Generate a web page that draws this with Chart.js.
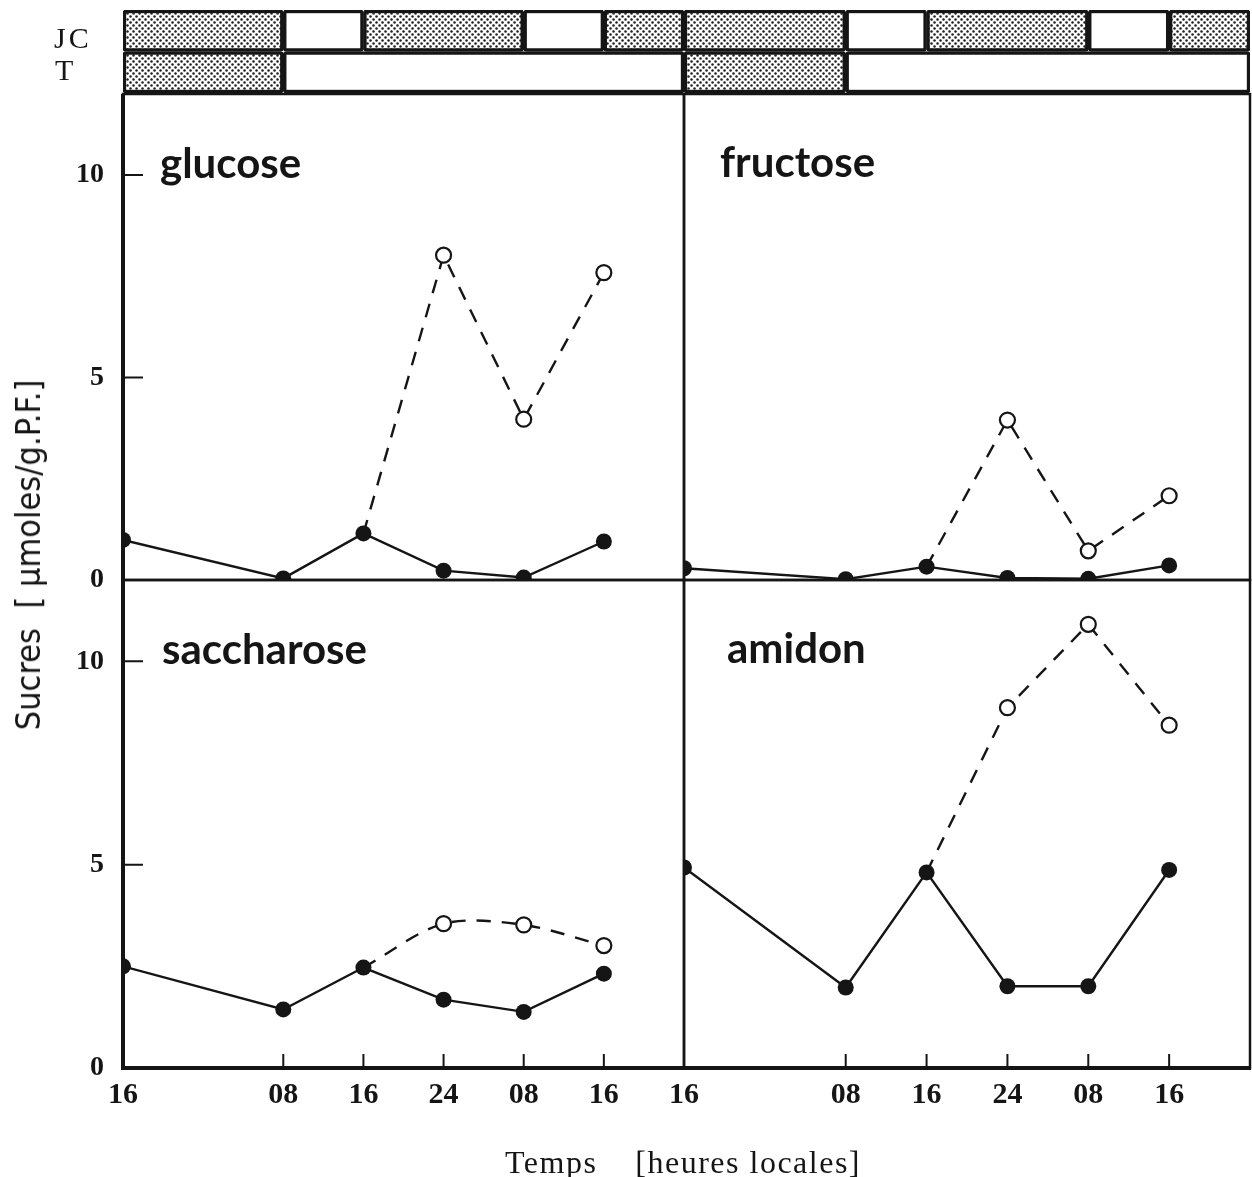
<!DOCTYPE html>
<html>
<head>
<meta charset="utf-8">
<script src="https://cdn.jsdelivr.net/npm/chart.js@4.4.1/dist/chart.umd.min.js"></script>
<style>
  html, body { margin: 0; padding: 0; background: #fff; }
  #page { position: relative; width: 1252px; height: 1177px; overflow: hidden; }
  #page canvas { position: absolute; left: 0; top: 0; }
  .lbl { position: absolute; color: #151515; white-space: nowrap; line-height: 1; }
  .serif { font-family: "Liberation Serif", "DejaVu Serif", serif; }
  .title { font-family: Lato, "DejaVu Sans", sans-serif; font-weight: 700; font-size: 42px; }
</style>
</head>
<body>
<div id="page">
  <canvas id="barsL" width="1280" height="1177"></canvas>
  <canvas id="barsR" width="1280" height="1177"></canvas>
  <canvas id="glucose" width="1280" height="1177"></canvas>
  <canvas id="fructose" width="1280" height="1177"></canvas>
  <canvas id="saccharose" width="1280" height="1177"></canvas>
  <canvas id="amidon" width="1280" height="1177"></canvas>

  <div class="lbl serif" style="left:54px; top:23px; font-size:30px; letter-spacing:3px;">JC</div>
  <div class="lbl serif" style="left:55px; top:55px; font-size:30px;">T</div>

  <div class="lbl title" style="left:160px; top:141px;">glucose</div>
  <div class="lbl title" style="left:720px; top:140px;">fructose</div>
  <div class="lbl title" style="left:162px; top:627px;">saccharose</div>
  <div class="lbl title" style="left:727px; top:626px;">amidon</div>

  <div class="lbl" style="left:28px; top:555px; transform:translate(-50%,-50%) rotate(-90deg);
       font-family:'Liberation Sans Narrow','DejaVu Sans Condensed',sans-serif; font-size:34px;">Sucres&nbsp; [ μmoles/g.P.F.]</div>
  <div class="lbl serif" style="left:683px; top:1162px; transform:translate(-50%,-50%);
       font-size:32px; letter-spacing:1.5px;">Temps&nbsp;&nbsp;&nbsp; [heures locales]</div>
</div>

<script>
// sampling times, hours after the first 16h mark
const hours = [0, 16, 24, 32, 40, 48];
const hourLabels = ['16', '08', '16', '24', '08', '16'];
const yTicks = [0, 5, 10];

// filled dots (JC) and open dots (T), µmoles/g.P.F.
const glucoseJC = [0.99, 0.04, 1.15, 0.23, 0.06, 0.95];
const glucoseT = [null, null, 1.15, 8.02, 3.97, 7.59];
const fructoseJC = [0.29, 0.02, 0.33, 0.05, 0.03, 0.36];
const fructoseT = [null, null, 0.33, 3.95, 0.72, 2.08];
const saccharoseJC = [2.50, 1.44, 2.47, 1.68, 1.38, 2.32];
const saccharoseT = [null, null, 2.47, 3.55, 3.52, 3.01];
const amidonJC = [4.93, 1.98, 4.81, 2.01, 2.01, 4.87];
const amidonT = [null, null, 4.81, 8.86, 10.91, 8.43];

// photoperiod strips: dark / light segments in hours
const rows = ['JC', 'T'];
const jcDark = [[0, 16], [24, 40], [48, 56]];
const jcLight = [[16, 24], [40, 48]];
const tDark = [[0, 16]];
const tLight = [[16, 56]];

const INK = '#151515';
// canvases are a bit wider than the page so the right panels can reach the edge
const W = 1280, H = 1177;

function dotted() {
  const c = document.createElement('canvas');
  c.width = 6; c.height = 6;
  const g = c.getContext('2d');
  g.fillStyle = '#fff';
  g.fillRect(0, 0, 6, 6);
  g.fillStyle = '#1e1e1e';
  [[1.5, 1.5], [4.5, 4.5]].forEach(([x, y]) => {
    g.beginPath(); g.arc(x, y, 1.25, 0, Math.PI * 2); g.fill();
  });
  return g.createPattern(c, 'repeat');
}
const dots = dotted();

function segs(list, row) {
  return list.map(s => ({x: s, y: row}));
}

function strip(id, left, right) {
  new Chart(document.getElementById(id), {
    type: 'bar',
    data: {
      labels: rows,
      datasets: [
        {data: segs(jcDark, 'JC').concat(segs(tDark, 'T')), backgroundColor: dots},
        {data: segs(jcLight, 'JC').concat(segs(tLight, 'T')), backgroundColor: '#fff'}
      ]
    },
    options: {
      indexAxis: 'y',
      responsive: false,
      animation: false,
      layout: {padding: {left: left, right: W - right, top: 10, bottom: H - 93}},
      datasets: {bar: {grouped: false, barPercentage: 1, categoryPercentage: 1,
        borderWidth: 3.5, borderColor: INK, borderSkipped: false, borderRadius: 3}},
      scales: {
        x: {type: 'linear', min: 0, max: 56, display: false},
        y: {display: false}
      },
      plugins: {legend: {display: false}, tooltip: {enabled: false}}
    }
  });
}

function pts(vals) {
  return hours.map((h, i) => ({x: h, y: vals[i]})).filter(p => p.y !== null);
}

// frame + inward tick marks
const frame = {
  id: 'frame',
  afterDraw(chart, args, o) {
    const {ctx, chartArea: a} = chart;
    ctx.save();
    ctx.strokeStyle = INK;
    ctx.lineWidth = 2.5;
    ctx.strokeRect(a.left, a.top, a.right - a.left, a.bottom - a.top);
    ctx.lineWidth = 4;
    ctx.beginPath();
    if (o.thickLeft) { ctx.moveTo(a.left, a.top); ctx.lineTo(a.left, a.bottom + 2); }
    if (o.thickBottom) { ctx.moveTo(a.left - 2, a.bottom); ctx.lineTo(a.right + 1, a.bottom); }
    ctx.stroke();
    ctx.lineWidth = 2;
    ctx.beginPath();
    (o.yMarks || []).forEach(v => {
      const y = chart.scales.y.getPixelForValue(v);
      ctx.moveTo(a.left, y); ctx.lineTo(a.left + 20, y);
    });
    (o.xMarks || []).forEach(v => {
      const x = chart.scales.x.getPixelForValue(v);
      ctx.moveTo(x, a.bottom); ctx.lineTo(x, a.bottom - 14);
    });
    ctx.stroke();
    ctx.restore();
  }
};

function panel(id, jc, t, box, o) {
  const padBottom = o.showX ? H - box.bottom - 50 : H - box.bottom;
  new Chart(document.getElementById(id), {
    type: 'line',
    data: {
      datasets: [
        {data: pts(jc), borderColor: INK, borderWidth: 2.4, pointRadius: 8,
          pointBackgroundColor: INK, pointBorderWidth: 0, clip: 0, tension: 0},
        {data: pts(t), borderColor: INK, borderWidth: 2.4, borderDash: [14, 11],
          pointRadius: c => c.dataIndex === 0 ? 0 : 7.5, pointBackgroundColor: '#fff',
          pointBorderColor: INK, pointBorderWidth: 2.2, clip: 0, tension: o.curve || 0}
      ]
    },
    options: {
      responsive: false,
      animation: false,
      layout: {padding: {left: o.showY ? 0 : box.left, right: W - box.right, top: box.top, bottom: padBottom}},
      scales: {
        x: {
          type: 'linear', min: 0, max: 56, display: o.showX,
          grid: {display: false, drawTicks: false}, border: {display: false},
          afterBuildTicks: s => { s.ticks = hours.map(v => ({value: v})); },
          afterFit: s => { if (o.showX) s.height = 50; },
          ticks: {padding: 9, color: INK, maxRotation: 0, autoSkip: false,
            font: {family: 'Liberation Serif', size: 30, weight: 'bold'},
            callback: v => hourLabels[hours.indexOf(v)]}
        },
        y: {
          min: 0, max: 12, display: o.showY,
          grid: {display: false, drawTicks: false}, border: {display: false},
          afterBuildTicks: s => { s.ticks = yTicks.map(v => ({value: v})); },
          afterFit: s => { if (o.showY) s.width = box.left; },
          ticks: {padding: 19, color: INK,
            font: {family: 'Liberation Serif', size: 28, weight: 'bold'}}
        }
      },
      plugins: {
        legend: {display: false},
        tooltip: {enabled: false},
        frame: {thickLeft: o.showY, thickBottom: o.showX,
          yMarks: o.showY ? [5, 10] : [], xMarks: o.showX ? [16, 24, 32, 40, 48] : []}
      }
    },
    plugins: [frame]
  });
}

strip('barsL', 123, 684);
strip('barsR', 684, 1250);

const topBox = {top: 94, bottom: 580};
const botBox = {top: 580, bottom: 1068};
panel('glucose', glucoseJC, glucoseT, {left: 123, right: 684, ...topBox}, {showY: true, showX: false});
panel('fructose', fructoseJC, fructoseT, {left: 684, right: 1250, ...topBox}, {showY: false, showX: false});
panel('saccharose', saccharoseJC, saccharoseT, {left: 123, right: 684, ...botBox}, {showY: true, showX: true, curve: 0.3});
panel('amidon', amidonJC, amidonT, {left: 684, right: 1250, ...botBox}, {showY: false, showX: true});
</script>
</body>
</html>
